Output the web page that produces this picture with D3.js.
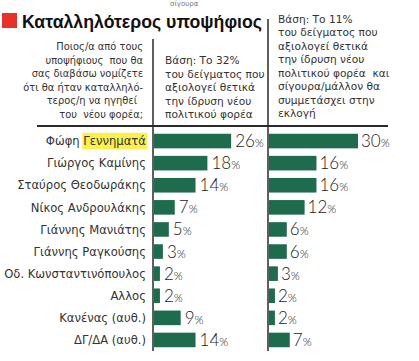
<!DOCTYPE html>
<html><head><meta charset="utf-8">
<script src="https://cdn.jsdelivr.net/npm/d3@7/dist/d3.min.js"></script>
<style>
html,body{margin:0;padding:0;background:#fff;}
svg{display:block;}
</style></head>
<body>
<script>
const candidates = ["Φώφη Γεννηματά","Γιώργος Καμίνης","Σταύρος Θεοδωράκης","Νίκος Ανδρουλάκης","Γιάννης Μανιάτης","Γιάννης Ραγκούσης","Οδ. Κωνσταντινόπουλος","Αλλος","Κανένας (αυθ.)","ΔΓ/ΔΑ (αυθ.)"];
const base32 = [26,18,14,7,5,3,2,2,9,14];
const base11 = [30,16,16,12,6,6,3,2,2,7];
const titleText = "Καταλληλότερος υποψήφιος";
const questionLines = ["Ποιος/α από τους","υποψήφιους  που θα","σας διαβάσω νομίζετε","ότι θα ήταν καταλληλό-","τερος/η να ηγηθεί","του  νέου φορέα;"];
const head32 = ["Βάση: Το 32%","του δείγματος που","αξιολογεί θετικά","την ίδρυση νέου","πολιτικού φορέα"];
const head11 = ["Βάση: Το 11%","του δείγματος που","αξιολογεί θετικά","την ίδρυση νέου","πολιτικού φορέα  και","σίγουρα/μάλλον θα","συμμετάσχει στην","εκλογή"];

const W = 419, H = 361;
const svg = d3.select("body").append("svg").attr("width", W).attr("height", H);
const green = "#1f6b4e", ink = "#2a2a2a", txt = "#333";
const font = "'DejaVu Sans', sans-serif";

// tiny residual text at the very top
svg.append("text").attr("x", 170).attr("y", 6).attr("font-family", font).attr("font-size", 7).attr("fill", "#777").text("σίγουρα");

// title
svg.append("rect").attr("x", 2).attr("y", 13).attr("width", 15).attr("height", 15).attr("fill", "#e5322b");
svg.append("text").attr("x", 22).attr("y", 27.5).attr("font-family", "'Liberation Sans', Arial, sans-serif")
  .attr("font-weight", "bold").attr("font-size", 18.5).attr("fill", "#111")
  .attr("textLength", 240).attr("lengthAdjust", "spacingAndGlyphs").text(titleText);

// header texts
const lh = 13.5, hs = 10.6;
svg.append("g").selectAll("text").data(questionLines).join("text")
  .attr("x", (d,i) => i === 4 ? 137 : 143).attr("y", (d,i) => 50 + i*lh)
  .attr("text-anchor", "end").attr("font-family", font).attr("font-size", 9.9).attr("fill", txt)
  .style("white-space","pre").text(d => d);
svg.append("g").selectAll("text").data(head32).join("text")
  .attr("x", 165).attr("y", (d,i) => 64 + i*lh)
  .attr("font-family", font).attr("font-size", hs).attr("fill", txt).style("white-space","pre").text(d => d);
svg.append("g").selectAll("text").data(head11).join("text")
  .attr("x", 278).attr("y", (d,i) => 22.5 + i*lh)
  .attr("font-family", font).attr("font-size", hs).attr("fill", txt).style("white-space","pre").text(d => d);

// rules
svg.append("line").attr("x1", 37).attr("x2", 388).attr("y1", 126).attr("y2", 126).attr("stroke", ink).attr("stroke-width", 2);
svg.append("line").attr("x1", 153).attr("x2", 153).attr("y1", 39).attr("y2", 351).attr("stroke", ink).attr("stroke-width", 1.5);
svg.append("line").attr("x1", 268).attr("x2", 268).attr("y1", 19).attr("y2", 351).attr("stroke", ink).attr("stroke-width", 1.5);

// scales
const y = d3.scaleBand().domain(candidates).range([130, 351]).paddingInner(0.34).paddingOuter(0.17);
const x1 = d3.scaleLinear().domain([0, 30]).range([154, 154 + 89]);
const x2 = d3.scaleLinear().domain([0, 30]).range([269, 269 + 89]);

// labels
const lab = svg.append("g");
candidates.forEach((c, i) => {
  const t = lab.append("text").attr("x", 146).attr("y", y(c) + y.bandwidth()/2 + 4.2)
    .attr("text-anchor", "end").attr("font-family", font).attr("font-size", 11.6).attr("fill", txt);
  if (i === 0) {
    t.append("tspan").text("Φώφη ");
    t.append("tspan").text("Γεννηματά");
  } else t.text(c);
});
// highlight behind Γεννηματά
{
  const first = lab.select("text").node();
  const tsp = first.childNodes[1];
  const bb = tsp.getBBox();
  lab.insert("rect", ":first-child").attr("x", bb.x - 1).attr("y", y(candidates[0]) - 1).attr("width", bb.width + 2).attr("height", y.bandwidth() + 2).attr("fill", "#fbf14e");
}

function drawBars(data, x, gap) {
  const g = svg.append("g");
  g.selectAll("rect").data(data).join("rect")
    .attr("x", x(0)).attr("y", (d,i) => y(candidates[i]))
    .attr("width", d => x(d) - x(0)).attr("height", y.bandwidth()).attr("fill", green);
  const t = g.selectAll("text").data(data).join("text")
    .attr("x", d => x(d) + gap).attr("y", (d,i) => y(candidates[i]) + y.bandwidth()/2 + 6)
    .attr("font-family", "Lato, 'Open Sans', sans-serif").attr("font-weight", 300).attr("fill", "#1a1a1a");
  t.append("tspan").attr("font-size", 17).text(d => d);
  t.append("tspan").attr("font-size", 11.5).text("%");
}
drawBars(base32, x1, 4);
drawBars(base11, x2, 3);
</script>
</body></html>
